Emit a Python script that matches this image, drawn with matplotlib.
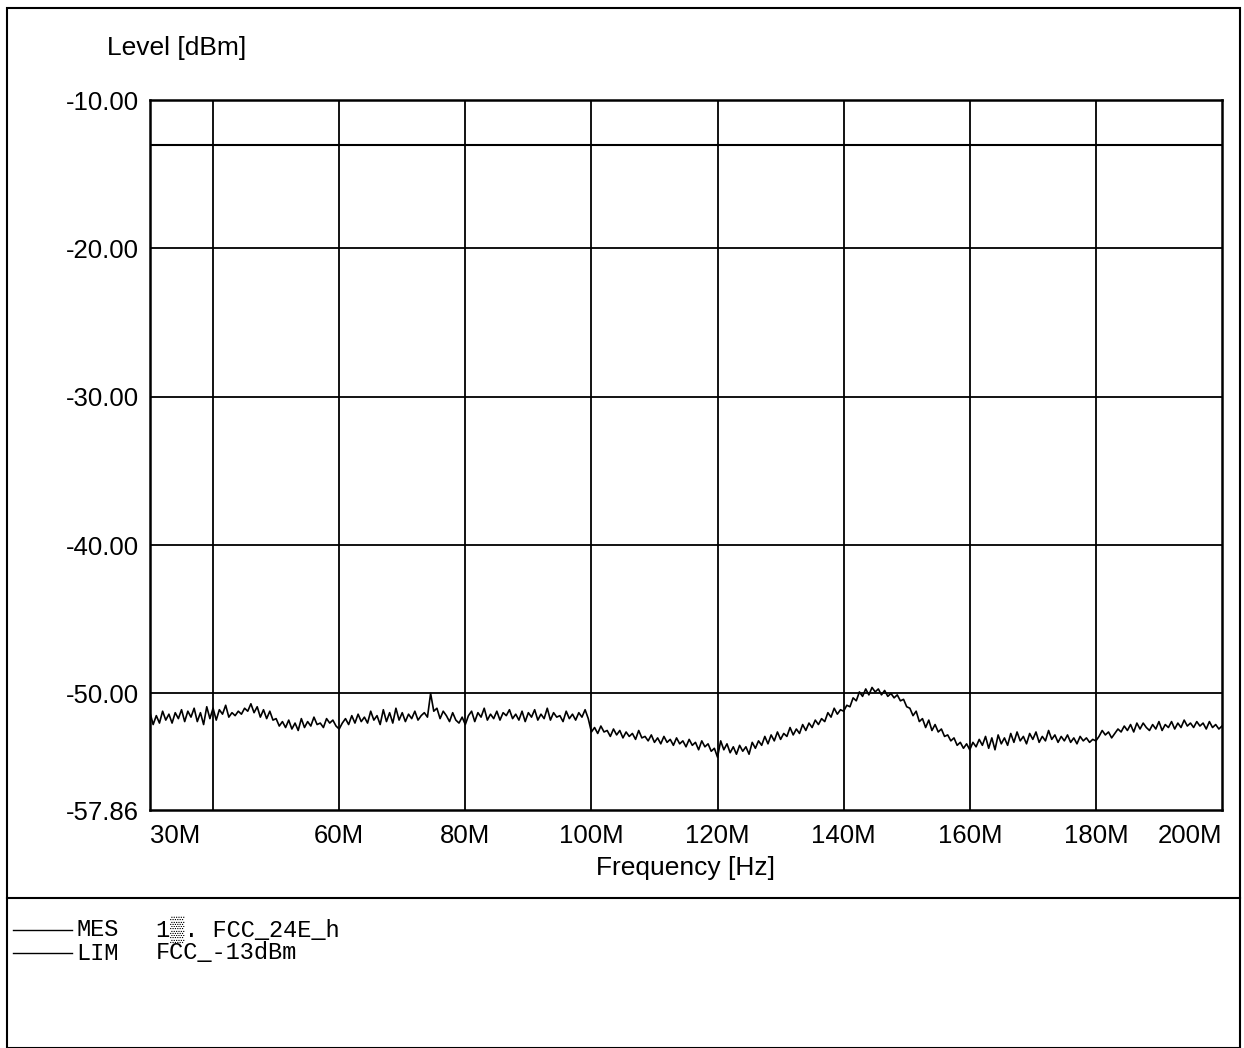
import matplotlib
matplotlib.use("Agg")
import matplotlib.pyplot as plt
import numpy as np
from matplotlib.lines import Line2D
from matplotlib.patches import Rectangle

freq_mhz = np.arange(30.0, 200.5, 0.5)
level_dbm = [
    -51.3, -52.1, -51.5, -52.0, -51.2, -51.8, -51.4, -52.0, -51.3, -51.7,   # 30
    -51.1, -51.9, -51.2, -51.6, -51.0, -51.9, -51.3, -52.1, -50.9, -51.7,   # 35
    -51.0, -51.8, -51.1, -51.4, -50.8, -51.6, -51.3, -51.5, -51.2, -51.4,   # 40
    -51.0, -51.2, -50.7, -51.3, -50.9, -51.6, -51.1, -51.7, -51.2, -51.8,   # 45
    -51.7, -52.2, -51.9, -52.3, -51.8, -52.4, -52.0, -52.5, -51.7, -52.3,   # 50
    -51.9, -52.2, -51.6, -52.1, -52.0, -52.3, -51.7, -52.0, -51.8, -52.2,   # 55
    -52.4, -52.0, -51.7, -52.1, -51.5, -52.0, -51.4, -51.9, -51.6, -52.0,   # 60
    -51.2, -51.8, -51.5, -52.1, -51.1, -51.9, -51.3, -52.0, -51.0, -51.8,   # 65
    -51.3, -51.9, -51.4, -51.7, -51.2, -51.8, -51.5, -51.3, -51.6, -50.0,   # 70
    -51.2, -51.0, -51.7, -51.2, -51.5, -51.9, -51.3, -51.8, -52.0, -51.6,   # 75
    -52.1, -51.5, -51.2, -51.9, -51.3, -51.6, -51.0, -51.8, -51.4, -51.7,   # 80
    -51.2, -51.8, -51.3, -51.5, -51.1, -51.7, -51.4, -51.8, -51.2, -51.9,   # 85
    -51.3, -51.6, -51.1, -51.8, -51.4, -51.7, -51.0, -51.8, -51.3, -51.6,   # 90
    -51.5, -51.9, -51.2, -51.7, -51.4, -51.8, -51.3, -51.6, -51.1, -51.7,   # 95
    -52.6, -52.3, -52.7, -52.2, -52.6, -52.5, -52.9, -52.4, -52.8, -52.5,   # 100
    -53.0, -52.6, -52.9, -52.7, -53.1, -52.5, -53.0, -52.9, -53.2, -52.8,   # 105
    -53.3, -53.0, -53.4, -52.9, -53.3, -53.1, -53.5, -53.0, -53.4, -53.2,   # 110
    -53.6, -53.1, -53.5, -53.3, -53.8, -53.2, -53.6, -53.4, -53.9, -53.7,   # 115
    -54.3, -53.2, -53.8, -53.4, -54.0, -53.6, -54.1, -53.5, -53.9, -53.6,   # 120
    -54.1, -53.3, -53.7, -53.2, -53.5, -52.9, -53.4, -52.8, -53.2, -52.6,   # 125
    -53.1, -52.7, -52.9, -52.3, -52.8, -52.4, -52.7, -52.1, -52.5, -52.0,   # 130
    -52.3, -51.8, -52.1, -51.7, -51.9, -51.3, -51.6, -51.0, -51.4, -51.1,   # 135
    -51.2, -50.8, -50.9, -50.3, -50.5, -49.9, -50.2, -49.7, -50.1, -49.6,   # 140
    -49.9, -49.7, -50.1, -49.8, -50.2, -50.0, -50.3, -50.1, -50.5, -50.4,   # 145
    -50.9, -51.0, -51.5, -51.2, -51.9, -51.7, -52.3, -51.8, -52.5, -52.1,   # 150
    -52.6, -52.4, -52.9, -52.8, -53.2, -53.0, -53.5, -53.3, -53.7, -53.4,   # 155
    -53.8, -53.3, -53.6, -53.1, -53.5, -52.9, -53.7, -53.0, -53.8, -52.8,   # 160
    -53.4, -53.0, -53.5, -52.7, -53.3, -52.6, -53.2, -52.9, -53.4, -52.7,   # 165
    -53.1, -52.6, -53.3, -52.9, -53.2, -52.5, -53.1, -52.8, -53.3, -52.9,   # 170
    -53.2, -52.8, -53.3, -53.0, -53.4, -52.9, -53.2, -53.0, -53.3, -53.1,   # 175
    -53.2, -52.9, -52.5, -52.8, -52.6, -53.0, -52.7, -52.4, -52.6, -52.2,   # 180
    -52.5, -52.1, -52.6, -52.0, -52.4, -52.0, -52.3, -52.5, -52.1, -52.4,   # 185
    -51.9, -52.5, -52.1, -52.3, -51.9, -52.4, -52.0, -52.3, -51.8, -52.2,   # 190
    -52.0, -52.3, -51.9, -52.2, -52.0, -52.4, -51.9, -52.3, -52.1, -52.4,   # 195
    -52.2,                                                                  # 200
]

limit_dbm = -13.0
limit_freq = [30.0, 200.0]

x_tick_vals = [30, 60, 80, 100, 120, 140, 160, 180, 200]
x_tick_labels = ['30M', '60M', '80M', '100M', '120M', '140M', '160M', '180M', '200M']
x_grid_vals = [40, 60, 80, 100, 120, 140, 160, 180]
y_tick_vals = [-57.86, -50, -40, -30, -20, -10]
y_tick_labels = ['-57.86', '-50.00', '-40.00', '-30.00', '-20.00', '-10.00']

legend_rows = [('MES', '1\u2592. FCC_24E_h'), ('LIM', 'FCC_-13dBm')]

W, H = 1244, 1048
fig = plt.figure(figsize=(W / 100, H / 100), dpi=100)
fig.patch.set_facecolor('white')

ax = fig.add_axes([150 / W, 1 - 810 / H, (1222 - 150) / W, (810 - 100) / H])
ax.set_xlim(30, 200)
ax.set_ylim(-57.86, -10)

# grid
for xg in x_grid_vals:
    ax.axvline(xg, color='black', lw=1.3, zorder=1)
for yg in [-50, -40, -30, -20]:
    ax.axhline(yg, color='black', lw=1.3, zorder=1)

# traces
ax.plot(freq_mhz, level_dbm, color='black', lw=1.2, zorder=3)
ax.plot(limit_freq, [limit_dbm, limit_dbm], color='black', lw=1.5, zorder=3)

for s in ax.spines.values():
    s.set_linewidth(1.8)
    s.set_color('black')

font = 'Liberation Sans'
ax.set_xticks(x_tick_vals)
ax.set_xticklabels(x_tick_labels, fontsize=18.5, fontfamily=font)
ax.set_yticks(y_tick_vals)
ax.set_yticklabels(y_tick_labels, fontsize=18.5, fontfamily=font)
ax.tick_params(axis='both', length=0)
ax.tick_params(axis='x', pad=10)
ax.tick_params(axis='y', pad=8)
labels = ax.get_xticklabels()
labels[0].set_horizontalalignment('left')
labels[-1].set_horizontalalignment('right')

ax.set_xlabel('Frequency [Hz]', fontsize=19, fontfamily=font, labelpad=6)
fig.text(107 / W, 1 - 48 / H, 'Level [dBm]', fontsize=19, fontfamily=font,
         ha='left', va='center')

# outer frame and separator
fig.add_artist(Rectangle((7 / W, 0.0), (1240 - 7) / W, (1048 - 8) / H,
                         transform=fig.transFigure, fill=False,
                         edgecolor='black', lw=1.5))
fig.add_artist(Line2D([7 / W, 1240 / W], [1 - 898 / H, 1 - 898 / H],
                      transform=fig.transFigure, color='black', lw=1.5))

# legend block
mono = ['Liberation Mono', 'DejaVu Sans Mono']
for i, (tag, name) in enumerate(legend_rows):
    yc = 930 + i * 23
    fig.add_artist(Line2D([13 / W, 72 / W], [1 - yc / H, 1 - yc / H],
                          transform=fig.transFigure, color='black', lw=1.0))
    fig.text(76 / W, 1 - yc / H, tag, fontsize=17, family=mono,
             ha='left', va='center')
    fig.text(156 / W, 1 - yc / H, name, fontsize=17, family=mono,
             ha='left', va='center')

fig.savefig('out.png', dpi=100, facecolor='white')
